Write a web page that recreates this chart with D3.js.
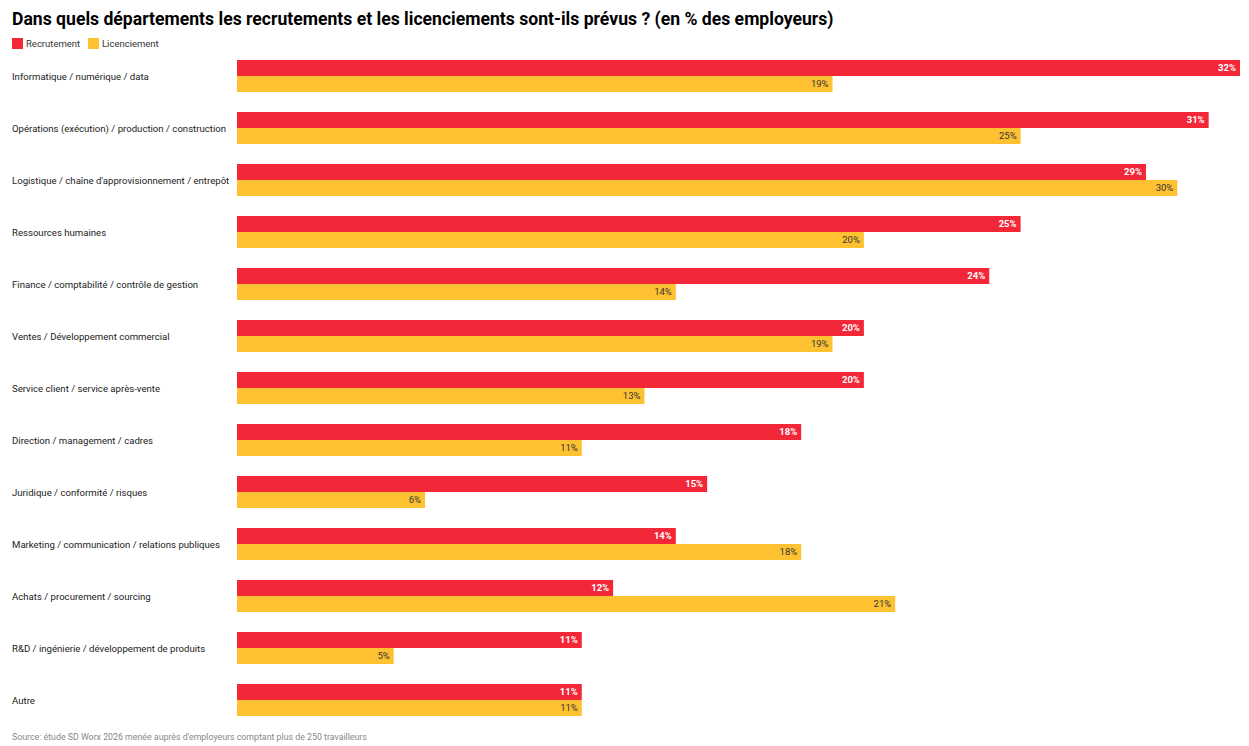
<!DOCTYPE html>
<html>
<head>
<meta charset="utf-8">
<script src="https://cdn.jsdelivr.net/npm/d3@7"></script>
<style>
  body { margin: 0; background: #fff; font-family: Roboto, sans-serif; }
</style>
</head>
<body>
<svg width="1249" height="746"></svg>
<script>
// categories and values
var categories = [
    'Informatique / numérique / data',
    'Opérations (exécution) / production / construction',
    'Logistique / chaîne d\'approvisionnement / entrepôt',
    'Ressources humaines',
    'Finance / comptabilité / contrôle de gestion',
    'Ventes / Développement commercial',
    'Service client / service après-vente',
    'Direction / management / cadres',
    'Juridique / conformité / risques',
    'Marketing / communication / relations publiques',
    'Achats / procurement / sourcing',
    'R&D / ingénierie / développement de produits',
    'Autre'
];
var seriesNames = ['Recrutement', 'Licenciement'];
var recrutement = [32, 31, 29, 25, 24, 20, 20, 18, 15, 14, 12, 11, 11];
var licenciement = [19, 25, 30, 20, 14, 19, 13, 11, 6, 18, 21, 5, 11];
var colors = ['#f22738', '#fec132'];

var rows = categories.map(function (c, i) {
    return { category: c, values: [recrutement[i], licenciement[i]] };
});

var svg = d3.select('svg');

// Scales
var xScale = d3.scaleLinear().domain([0, 32]).range([237, 1240]);
var yScale = d3.scaleBand().domain(categories).range([50, 726])
    .paddingInner(20 / 52).paddingOuter(10 / 52);
var subScale = d3.scaleBand().domain(seriesNames).range([0, yScale.bandwidth()]);

// Title
svg.append('text')
    .attr('x', 12)
    .attr('y', 25)
    .style('font-size', '17.6px')
    .style('font-weight', 'bold')
    .style('fill', '#000')
    .text('Dans quels départements les recrutements et les licenciements sont-ils prévus ? (en % des employeurs)');

// Legend
var legend = svg.append('g').attr('transform', 'translate(12, 38)');
var legendX = [0, 76];
seriesNames.forEach(function (name, i) {
    var g = legend.append('g').attr('transform', 'translate(' + legendX[i] + ',0)');
    g.append('rect').attr('width', 11).attr('height', 11).attr('fill', colors[i]);
    g.append('text')
        .attr('x', 14)
        .attr('y', 9)
        .style('font-size', '9.5px')
        .style('fill', '#333')
        .text(name);
});

// Rows
var rowG = svg.selectAll('.row')
    .data(rows)
    .enter()
    .append('g')
    .attr('class', 'row')
    .attr('transform', function (d) { return 'translate(0,' + yScale(d.category) + ')'; });

rowG.append('text')
    .attr('x', 12)
    .attr('y', yScale.bandwidth() / 2 + 1)
    .attr('dy', '0.35em')
    .style('font-size', '9.6px')
    .style('fill', '#222')
    .text(function (d) { return d.category; });

var bars = rowG.selectAll('.bar')
    .data(function (d) {
        return d.values.map(function (v, i) { return { series: seriesNames[i], value: v, idx: i }; });
    })
    .enter();

bars.append('rect')
    .attr('class', 'bar')
    .attr('x', xScale(0))
    .attr('y', function (d) { return subScale(d.series); })
    .attr('width', function (d) { return xScale(d.value) - xScale(0); })
    .attr('height', subScale.bandwidth())
    .attr('fill', function (d) { return colors[d.idx]; });

bars.append('text')
    .attr('x', function (d) { return xScale(d.value) - 4; })
    .attr('y', function (d) { return subScale(d.series) + subScale.bandwidth() / 2; })
    .attr('dy', '0.35em')
    .attr('text-anchor', 'end')
    .style('font-size', '9.5px')
    .style('font-weight', function (d) { return d.idx === 0 ? 'bold' : 'normal'; })
    .style('fill', function (d) { return d.idx === 0 ? '#fff' : '#333'; })
    .text(function (d) { return d.value + '%'; });

// Source
svg.append('text')
    .attr('x', 12)
    .attr('y', 740)
    .style('font-size', '8.8px')
    .style('fill', '#888')
    .text('Source: étude SD Worx 2026 menée auprès d\'employeurs comptant plus de 250 travailleurs');
</script>
</body>
</html>
